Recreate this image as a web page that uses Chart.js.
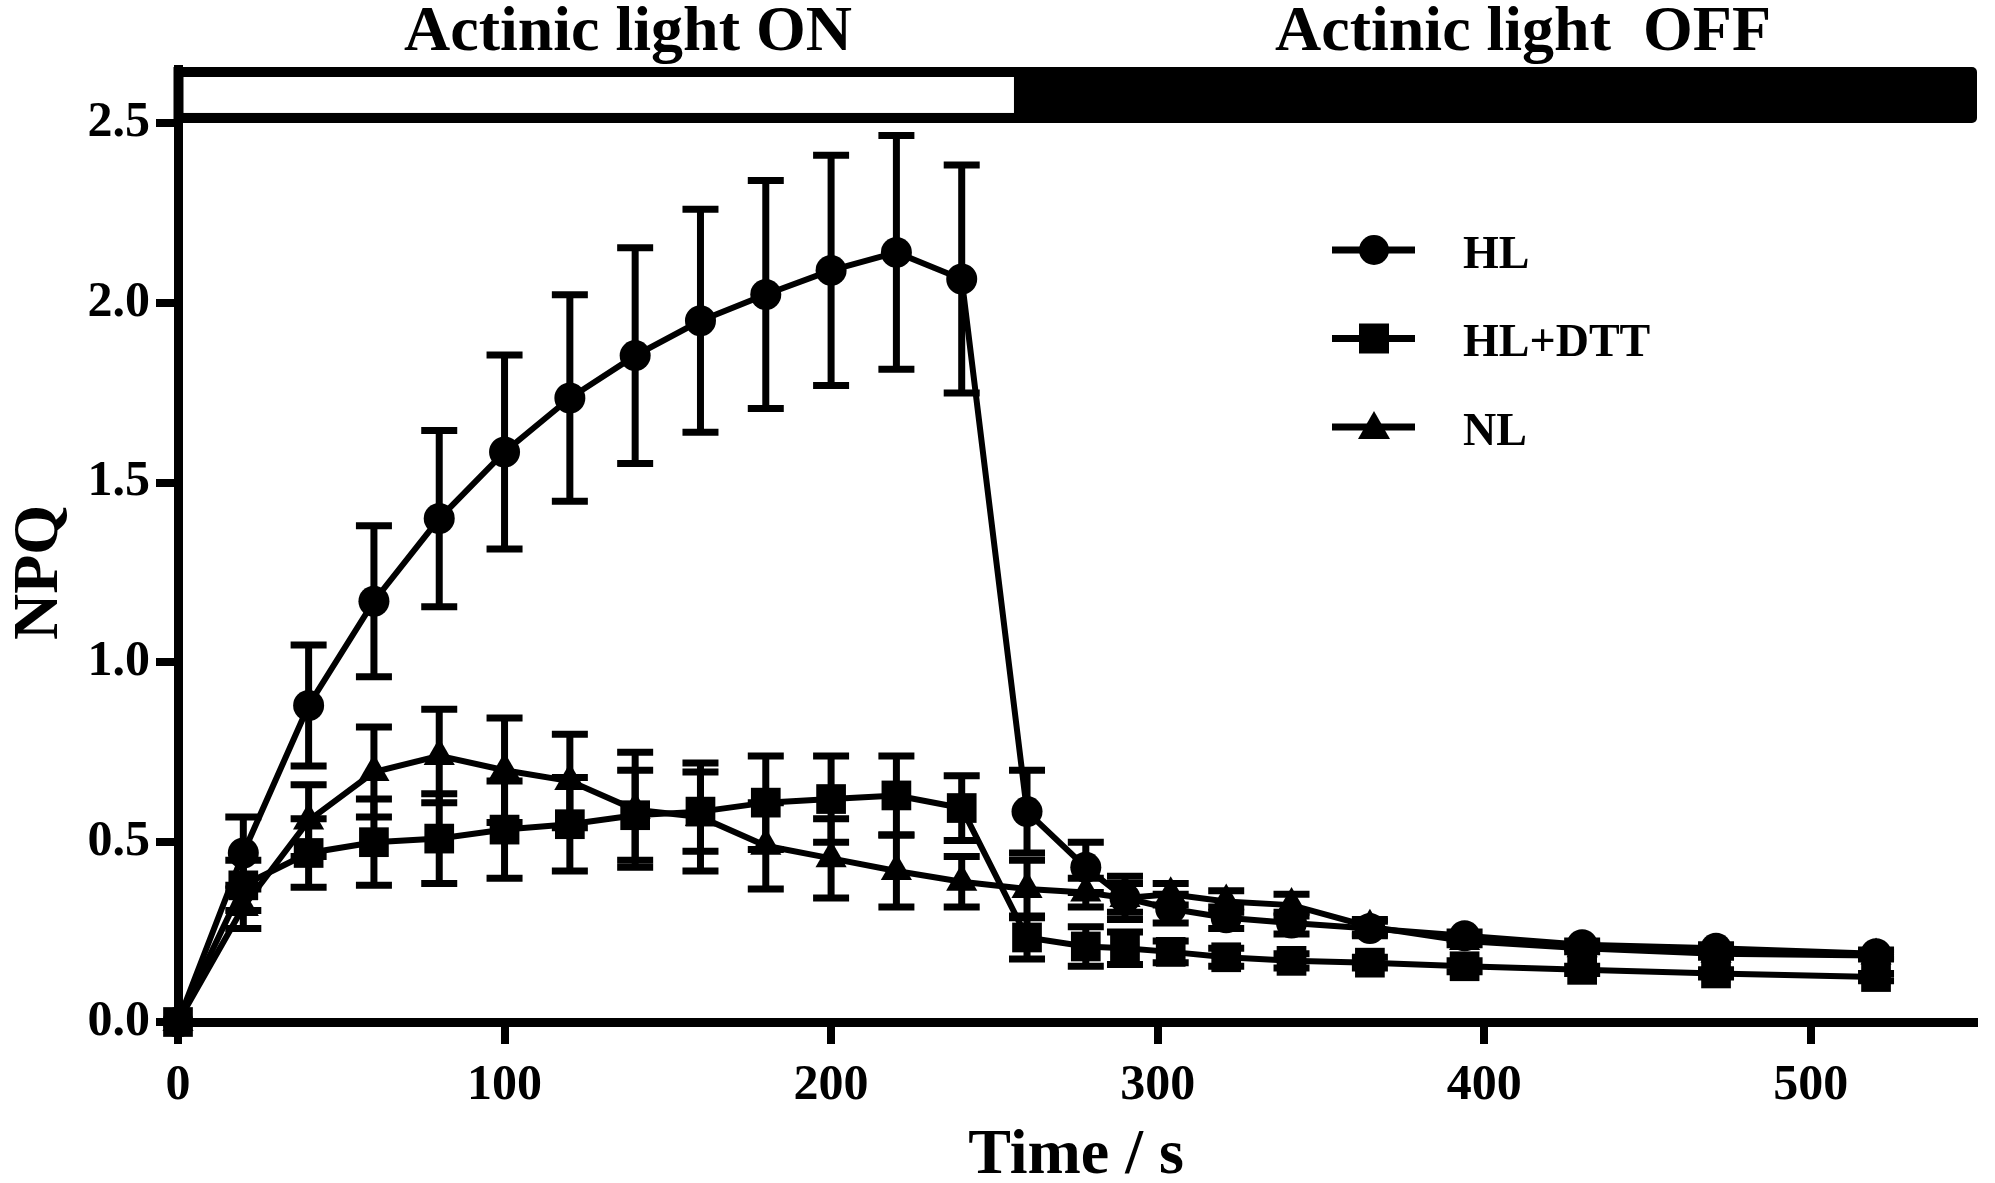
<!DOCTYPE html>
<html>
<head>
<meta charset="utf-8">
<title>NPQ</title>
<script src="https://cdn.jsdelivr.net/npm/chart.js@4.4.1/dist/chart.umd.min.js"></script>
<style>
  html, body { margin: 0; padding: 0; background: #fff; }
  canvas { display: block; }
</style>
</head>
<body>
<canvas id="npqChart" width="1995" height="1183"></canvas>
<script>
// time points (s)
const times = [0, 20, 40, 60, 80, 100, 120, 140, 160, 180, 200, 220, 240, 260, 278, 290, 304, 321, 341, 365, 394, 430, 471, 520];

// NPQ means and error bars
const hl     = [0, 0.47, 0.88, 1.17, 1.40, 1.585, 1.735, 1.853, 1.95, 2.023, 2.09, 2.14, 2.066, 0.585, 0.43, 0.345, 0.315, 0.29, 0.275, 0.26, 0.24, 0.215, 0.205, 0.19];
const hlErr  = [0, 0.10, 0.168, 0.21, 0.245, 0.27, 0.287, 0.30, 0.31, 0.317, 0.32, 0.325, 0.317, 0.115, 0.07, 0.06, 0.04, 0.03, 0.03, 0.02, 0.01, 0.01, 0.01, 0.01];
const dtt    = [0, 0.38, 0.47, 0.50, 0.51, 0.535, 0.55, 0.575, 0.585, 0.61, 0.62, 0.63, 0.595, 0.235, 0.21, 0.205, 0.195, 0.18, 0.17, 0.165, 0.155, 0.145, 0.135, 0.125];
const dttErr = [0, 0.07, 0.095, 0.12, 0.125, 0.135, 0.13, 0.125, 0.11, 0.13, 0.12, 0.11, 0.09, 0.06, 0.055, 0.045, 0.03, 0.025, 0.02, 0.015, 0.015, 0.01, 0.01, 0.01];
const nl     = [0, 0.32, 0.56, 0.695, 0.74, 0.70, 0.67, 0.59, 0.57, 0.49, 0.455, 0.42, 0.39, 0.37, 0.36, 0.345, 0.355, 0.335, 0.325, 0.265, 0.225, 0.205, 0.19, 0.185];
const nlErr  = [0, 0.06, 0.10, 0.125, 0.13, 0.145, 0.13, 0.16, 0.15, 0.12, 0.11, 0.10, 0.07, 0.08, 0.04, 0.04, 0.03, 0.03, 0.03, 0.02, 0.01, 0.01, 0.01, 0.01];

const seriesNames = ['HL', 'HL+DTT', 'NL'];
const xTicks = [0, 100, 200, 300, 400, 500];
const yTicks = [0, 0.5, 1.0, 1.5, 2.0, 2.5];
const xMax = 550;
const yMax = 2.65;
const lightOffAt = 256;   // actinic light switched off (s)
const barBase = 2.5;      // light bar sits on top of this value

const SERIF = '"Liberation Serif", "Times New Roman", serif';

function makeSeries(label, values, errs, style, radius) {
    return {
        label: label,
        data: times.map((t, i) => ({ x: t, y: values[i] })),
        errors: errs,
        borderColor: '#000',
        backgroundColor: '#000',
        borderWidth: 6,
        pointStyle: style,
        pointRadius: radius,
        pointHoverRadius: radius,
        pointBorderWidth: 0,
        tension: 0,
        clip: false
    };
}

function drawMarker(ctx, style, x, y) {
    ctx.beginPath();
    if (style === 'circle') {
        ctx.arc(x, y, 15, 0, Math.PI * 2);
    } else if (style === 'rect') {
        ctx.rect(x - 15, y - 15, 30, 30);
    } else {
        ctx.moveTo(x, y - 16);
        ctx.lineTo(x + 16, y + 12);
        ctx.lineTo(x - 16, y + 12);
        ctx.closePath();
    }
    ctx.fill();
}

// white/black bar showing actinic light on / off
const lightBar = {
    id: 'lightBar',
    afterDraw(chart) {
        const { ctx, chartArea, scales: { x, y } } = chart;
        const left = x.getPixelForValue(0) - 4.5;
        const right = x.getPixelForValue(xMax) + 3;
        const mid = x.getPixelForValue(lightOffAt);
        const top = chartArea.top - 2;
        const bottom = y.getPixelForValue(barBase);
        ctx.save();
        ctx.fillStyle = '#000';
        ctx.beginPath();
        if (ctx.roundRect) ctx.roundRect(left, top, right - left, bottom - top, [0, 5, 5, 0]);
        else ctx.rect(left, top, right - left, bottom - top);
        ctx.fill();
        ctx.fillStyle = '#fff';
        ctx.fillRect(left + 10, top + 10, mid - left - 10, bottom - top - 20);

        ctx.fillStyle = '#000';
        ctx.font = 'bold 64px ' + SERIF;
        ctx.textAlign = 'center';
        ctx.textBaseline = 'alphabetic';
        ctx.fillText('Actinic light ON', 628, 50);
        ctx.fillText('Actinic light  OFF', 1523, 50);
        ctx.restore();
    }
};

const errorBars = {
    id: 'errorBars',
    beforeDatasetsDraw(chart) {
        const { ctx, scales: { x, y } } = chart;
        ctx.save();
        ctx.strokeStyle = '#000';
        ctx.lineWidth = 7;
        ctx.lineCap = 'butt';
        chart.data.datasets.forEach(ds => {
            ds.data.forEach((p, i) => {
                const e = ds.errors[i];
                if (!e) return;
                const px = x.getPixelForValue(p.x);
                const hi = y.getPixelForValue(p.y + e);
                const lo = y.getPixelForValue(p.y - e);
                ctx.beginPath();
                ctx.moveTo(px, hi);
                ctx.lineTo(px, lo);
                ctx.moveTo(px - 18, hi);
                ctx.lineTo(px + 18, hi);
                ctx.moveTo(px - 18, lo);
                ctx.lineTo(px + 18, lo);
                ctx.stroke();
            });
        });
        ctx.restore();
    }
};

// axis titles and legend
const annotations = {
    id: 'annotations',
    afterDraw(chart) {
        const { ctx, scales: { x, y } } = chart;
        ctx.save();
        ctx.fillStyle = '#000';
        ctx.font = 'bold 64px ' + SERIF;
        ctx.textAlign = 'center';
        ctx.textBaseline = 'alphabetic';
        ctx.fillText('Time / s', (x.left + x.right) / 2, 1173);

        ctx.save();
        ctx.translate(57, y.getPixelForValue(1.25));
        ctx.rotate(-Math.PI / 2);
        ctx.fillText('NPQ', 0, 0);
        ctx.restore();

        ctx.font = 'bold 46px ' + SERIF;
        ctx.textAlign = 'left';
        ctx.textBaseline = 'middle';
        ctx.strokeStyle = '#000';
        ctx.lineWidth = 7;
        chart.data.datasets.forEach((ds, i) => {
            const ly = 250 + i * 88.5;
            ctx.beginPath();
            ctx.moveTo(1332, ly);
            ctx.lineTo(1415, ly);
            ctx.stroke();
            drawMarker(ctx, ds.pointStyle, 1374, ly);
            ctx.fillText(seriesNames[i], 1463, ly + 6);
        });
        ctx.restore();
    }
};

const ctx = document.getElementById('npqChart').getContext('2d');
const npqChart = new Chart(ctx, {
    type: 'line',
    data: {
        datasets: [
            makeSeries(seriesNames[0], hl, hlErr, 'circle', 15.5),
            makeSeries(seriesNames[1], dtt, dttErr, 'rect', 21),
            makeSeries(seriesNames[2], nl, nlErr, 'triangle', 18)
        ]
    },
    options: {
        responsive: false,
        animation: false,
        devicePixelRatio: 1,
        layout: { padding: { left: 0, right: 12, top: 69, bottom: 0 } },
        plugins: {
            legend: { display: false },
            tooltip: { enabled: false }
        },
        scales: {
            x: {
                type: 'linear',
                min: 0,
                max: xMax,
                afterBuildTicks: s => { s.ticks = xTicks.map(v => ({ value: v })); },
                afterFit: s => { s.height = 161; },
                border: { display: true, color: '#000', width: 9 },
                grid: { display: true, drawOnChartArea: false, drawTicks: true, tickLength: 22, lineWidth: 8, color: '#000' },
                ticks: {
                    color: '#000',
                    padding: 12,
                    font: { family: SERIF, weight: 'bold', size: 50 },
                    callback: v => String(v)
                }
            },
            y: {
                type: 'linear',
                min: 0,
                max: yMax,
                afterBuildTicks: s => { s.ticks = yTicks.map(v => ({ value: v })); },
                afterFit: s => { s.width = 178; },
                border: { display: true, color: '#000', width: 9 },
                grid: { display: true, drawOnChartArea: false, drawTicks: true, tickLength: 22, lineWidth: 8, color: '#000' },
                ticks: {
                    color: '#000',
                    padding: 6,
                    font: { family: SERIF, weight: 'bold', size: 50 },
                    callback: v => Number(v).toFixed(1)
                }
            }
        }
    },
    plugins: [errorBars, lightBar, annotations]
});
</script>
</body>
</html>
